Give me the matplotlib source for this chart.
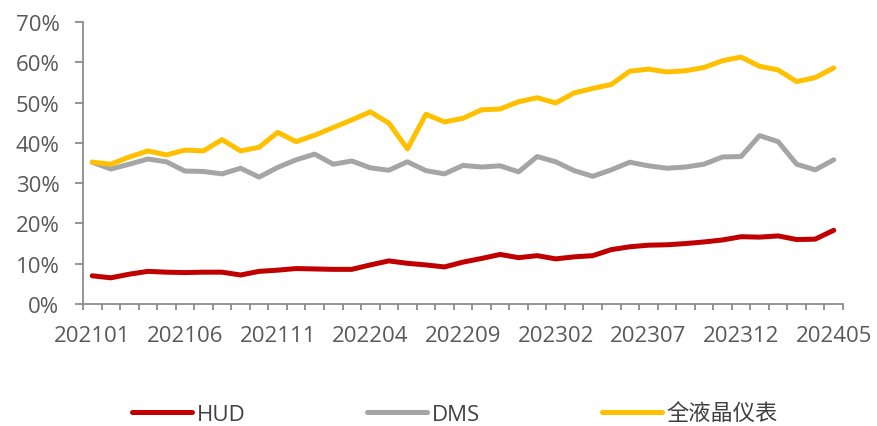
import numpy as np
import matplotlib.pyplot as plt
from matplotlib.ticker import FixedLocator, PercentFormatter

plt.rcParams['font.family'] = ['Open Sans', 'Noto Sans CJK SC', 'DejaVu Sans']

# monthly penetration rates, 2021-01 .. 2024-05
months = [f"{y}{m:02d}" for y in range(2021, 2025) for m in range(1, 13)][:41]

hud = [7.0, 6.5, 7.4, 8.1, 7.9, 7.8, 7.9, 7.9, 7.2, 8.1,
       8.4, 8.8, 8.7, 8.6, 8.6, 9.7, 10.7, 10.1, 9.7, 9.2,
       10.4, 11.3, 12.3, 11.5, 12.0, 11.2, 11.7, 12.0, 13.5, 14.2,
       14.6, 14.7, 15.0, 15.4, 15.9, 16.7, 16.6, 16.9, 16.0, 16.1,
       18.3]
dms = [35.2, 33.5, 34.7, 36.0, 35.3, 33.0, 32.9, 32.3, 33.7, 31.5,
       33.9, 35.8, 37.2, 34.7, 35.5, 33.8, 33.2, 35.3, 33.1, 32.3,
       34.4, 34.0, 34.3, 32.8, 36.6, 35.3, 33.1, 31.7, 33.3, 35.2,
       34.3, 33.7, 34.0, 34.7, 36.5, 36.6, 41.8, 40.3, 34.7, 33.3,
       35.8]
lcd = [35.2, 34.7, 36.5, 38.0, 37.0, 38.2, 38.0, 40.8, 38.0, 38.9,
       42.6, 40.3, 41.9, 43.8, 45.7, 47.7, 44.9, 38.5, 47.1, 45.2,
       46.1, 48.2, 48.4, 50.2, 51.2, 49.9, 52.4, 53.5, 54.5, 57.8,
       58.3, 57.6, 57.9, 58.7, 60.4, 61.3, 59.0, 58.1, 55.2, 56.2,
       58.6]

series = [("HUD", hud, "#C00000"), ("DMS", dms, "#A5A5A5"), ("全液晶仪表", lcd, "#FFC000")]

fig = plt.figure(figsize=(8.77, 4.27), dpi=100)
ax = fig.add_axes([83 / 877, 1 - 305 / 427, 760 / 877, 282 / 427])

x = np.arange(len(months))
for name, vals, color in series:
    ax.plot(x, np.array(vals) / 100, color=color, lw=3.6, label=name,
            solid_capstyle='round', solid_joinstyle='round')

axis_gray = "#8C8C8C"
ax.set_xlim(-0.5, len(months) - 0.5)
ax.set_ylim(0, 0.7)
ax.set_yticks(np.arange(0, 0.71, 0.1))
ax.yaxis.set_major_formatter(PercentFormatter(1.0, decimals=0))

ax.set_xticks(x[::5])
ax.set_xticklabels(months[::5])
ax.xaxis.set_minor_locator(FixedLocator(np.arange(-0.5, len(months), 1)))

for side in ("top", "right"):
    ax.spines[side].set_visible(False)
for side in ("left", "bottom"):
    ax.spines[side].set_color(axis_gray)
    ax.spines[side].set_linewidth(1.3)

ax.tick_params(axis='y', which='major', direction='out', length=6, width=1.3,
               color=axis_gray, labelcolor="#595959", labelsize=16, pad=11)
ax.tick_params(axis='x', which='major', length=0, labelcolor="#595959",
               labelsize=16, pad=15)
ax.tick_params(axis='x', which='minor', direction='out', length=4.5, width=1.3,
               color=axis_gray)

leg = fig.legend(loc='center', bbox_to_anchor=(455 / 877, 1 - 415 / 427), ncol=3,
                 frameon=False, fontsize=16, handlelength=2.7, handletextpad=0.2,
                 columnspacing=5.5, borderpad=0, borderaxespad=0)
for t in leg.get_texts():
    t.set_color("#404040")

fig.savefig("out.png", dpi=100)
